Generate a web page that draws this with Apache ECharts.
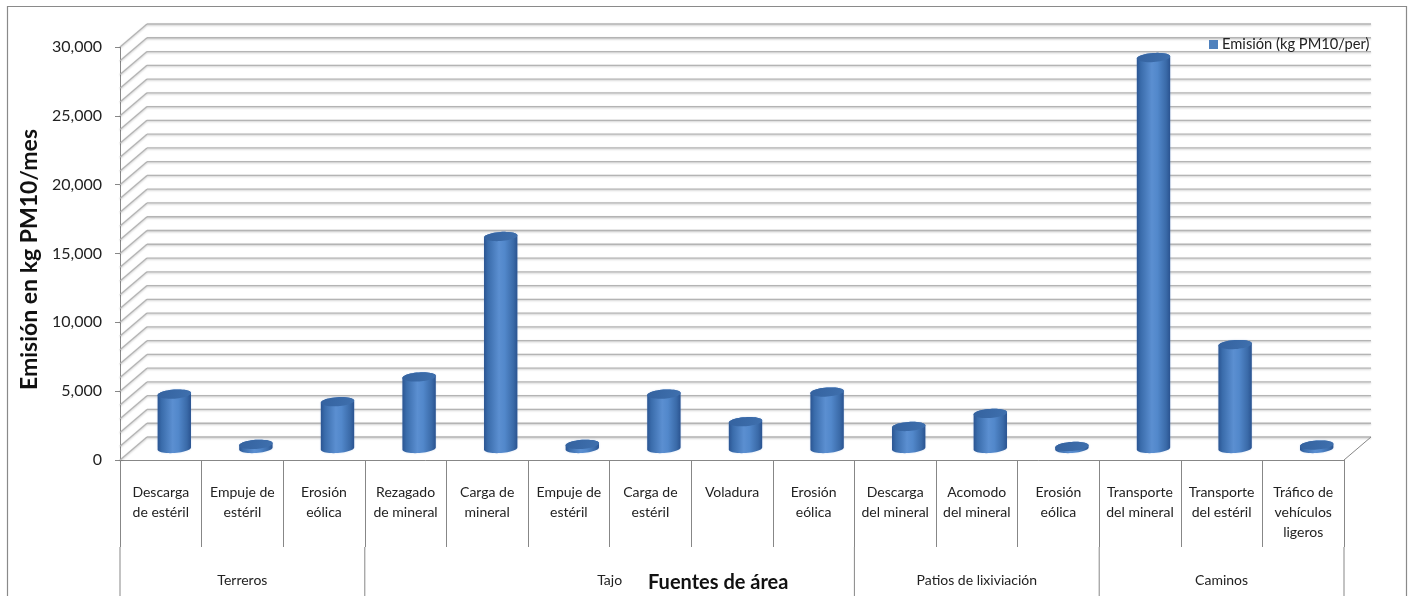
<!DOCTYPE html>
<html>
<head>
<meta charset="utf-8">
<script src="https://cdn.jsdelivr.net/npm/echarts@6/dist/echarts.min.js"></script>
<style>
  html, body { margin: 0; padding: 0; background: #fff; }
  #chart { width: 1417px; height: 596px; }
</style>
</head>
<body>
<div id="chart"></div>
<script>
// Emission sources (sub-categories) and the area each belongs to
const sources = [
  'Descarga\nde estéril', 'Empuje de\nestéril', 'Erosión\neólica',
  'Rezagado\nde mineral', 'Carga de\nmineral', 'Empuje de\nestéril', 'Carga de\nestéril', 'Voladura', 'Erosión\neólica',
  'Descarga\ndel mineral', 'Acomodo\ndel mineral', 'Erosión\neólica',
  'Transporte\ndel mineral', 'Transporte\ndel estéril', 'Tráfico de\nvehículos\nligeros'
];
const areas = ['Terreros', 'Tajo', 'Patios de lixiviación', 'Caminos'];
const sourceArea = [0, 0, 0, 1, 1, 1, 1, 1, 1, 2, 2, 2, 3, 3, 3];

// Emisión (kg PM10/mes) per source
const emissions = [3950, 300, 3400, 5200, 15400, 300, 3950, 1950, 4100, 1600, 2550, 150, 28400, 7550, 250];

// Value axis
const yMin = 0, yMax = 30000, yStep = 5000, wallStep = 1000;

const seriesName = 'Emisión (kg PM10/per)';
const FONT = 'Lato';
const DX = 27, DY = -23;           // depth of the 3D box
const LINE = '#878787';

function fmt(v) { return String(v).replace(/\B(?=(\d{3})+(?!\d))/g, ','); }

// Area spans built from the source list
const areaSpans = areas.map((name, a) => {
  const idx = sourceArea.map((g, i) => g === a ? i : -1).filter(i => i >= 0);
  return [idx[0], idx[idx.length - 1], name];
});

function ellipsePts(cx, cy, rx, ry, rot, t0, t1, n) {
  const pts = [];
  const c = Math.cos(rot), s = Math.sin(rot);
  for (let k = 0; k <= n; k++) {
    const t = t0 + (t1 - t0) * k / n;
    const ex = rx * Math.cos(t), ey = ry * Math.sin(t);
    pts.push([cx + ex * c - ey * s, cy + ex * s + ey * c]);
  }
  return pts;
}

const chart = echarts.init(document.getElementById('chart'), null, { renderer: 'canvas' });

chart.setOption({
  animation: false,
  backgroundColor: '#fff',
  textStyle: { fontFamily: FONT },
  legend: {
    data: [seriesName],
    left: 1209, top: 37,
    icon: 'rect', itemWidth: 9, itemHeight: 9, itemGap: 5,
    padding: 0,
    textStyle: { fontFamily: FONT, fontSize: 14.7, color: '#222', padding: [0, 0, 0, -1] }
  },
  grid: { left: 120, top: 47, width: 1224, height: 413 },
  xAxis: {
    type: 'category',
    data: sources,
    boundaryGap: true,
    axisLine: { show: true, lineStyle: { color: LINE, width: 1 } },
    axisTick: { show: true, interval: 0, length: 87, lineStyle: { color: LINE } },
    axisLabel: {
      interval: 0, margin: 22, fontFamily: FONT, fontSize: 14, lineHeight: 20,
      color: '#222', verticalAlign: 'top'
    },
    splitLine: { show: false }
  },
  yAxis: {
    type: 'value', min: yMin, max: yMax, interval: yStep,
    name: 'Emisión en kg PM10/mes',
    nameLocation: 'middle', nameGap: 73,
    nameTextStyle: { fontFamily: FONT, fontSize: 23, fontWeight: 'bold', color: '#111', padding: [0, 12, 0, 0] },
    axisLine: { show: true, lineStyle: { color: LINE } },
    axisTick: { show: true, length: 5, lineStyle: { color: LINE } },
    axisLabel: { margin: 18, fontFamily: FONT, fontSize: 16, color: '#222', formatter: v => fmt(v) },
    splitLine: { show: false }
  },
  graphic: [
    {
      type: 'rect', silent: true, z: 0,
      shape: { x: 7.5, y: 6.5, width: 1399, height: 600 },
      style: { fill: 'none', stroke: '#8a8a8a', lineWidth: 1.2 }
    },
    {
      type: 'text', left: 648, top: 573, silent: true, z: 10,
      style: { text: 'Fuentes de área', font: 'bold 20px ' + FONT, fill: '#111' }
    }
  ],
  series: [
    {
      // walls: left side wall diagonals, back wall gridlines, right floor edge
      type: 'custom', name: 'walls', silent: true, z: 1,
      data: [[0, 0]],
      renderItem: function (params, api) {
        const band = api.size([1, 0])[0];
        const xl = api.coord([0, 0])[0] - band / 2;
        const xr = api.coord([sources.length - 1, 0])[0] + band / 2;
        const y0 = api.coord([0, 0])[1];
        const children = [];
        const gl = { stroke: '#b4b4b4', lineWidth: 1.3, shadowColor: 'rgba(0,0,0,0.22)', shadowBlur: 2, shadowOffsetY: 1 };
        for (let v = yMin; v <= yMax; v += wallStep) {
          const yf = api.coord([0, v])[1];
          children.push({ type: 'line', shape: { x1: xl, y1: yf, x2: xl + DX, y2: yf + DY }, style: gl });
          children.push({ type: 'line', shape: { x1: xl + DX, y1: yf + DY, x2: xr + DX, y2: yf + DY }, style: gl });
        }
        children.push({ type: 'line', shape: { x1: xr, y1: y0, x2: xr + DX, y2: y0 + DY }, style: { stroke: LINE, lineWidth: 1 } });
        return { type: 'group', children: children };
      }
    },
    {
      // area (second-level) labels and separators
      type: 'custom', name: 'areas', silent: true, z: 2,
      data: areaSpans.map(s => [s[0], 0, s[1], s[2]]),
      renderItem: function (params, api) {
        const band = api.size([1, 0])[0];
        const s = areaSpans[params.dataIndex];
        const x0 = api.coord([s[0], 0])[0] - band / 2;
        const x1 = api.coord([s[1], 0])[0] + band / 2;
        const y0 = api.coord([0, 0])[1];
        const children = [
          { type: 'line', shape: { x1: x0, y1: y0 + 87, x2: x0, y2: y0 + 160 }, style: { stroke: LINE, lineWidth: 1 } }
        ];
        if (params.dataIndex === areaSpans.length - 1) {
          children.push({ type: 'line', shape: { x1: x1, y1: y0 + 87, x2: x1, y2: y0 + 160 }, style: { stroke: LINE, lineWidth: 1 } });
        }
        children.push({
          type: 'text',
          style: {
            text: s[2], x: (x0 + x1) / 2, y: y0 + 120,
            align: 'center', verticalAlign: 'middle',
            font: '14px ' + FONT, fill: '#222'
          }
        });
        return { type: 'group', children: children };
      }
    },
    {
      // cylinders
      type: 'custom', name: seriesName, z: 3,
      itemStyle: { color: '#4f81bd' },
      data: emissions.map((v, i) => [i, v]),
      renderItem: function (params, api) {
        const i = api.value(0), v = api.value(1);
        const band = api.size([1, 0])[0];
        const top = api.coord([i, v]);
        const base = api.coord([i, 0]);
        const cx = top[0] + DX / 2;
        const ty = top[1] + DY / 2;
        const by = base[1] + DY / 2;
        const rx = band * 0.205, ry = rx * 0.27, rot = -0.07;
        const upper = ellipsePts(cx, ty, rx, ry, rot, 0, -Math.PI, 24);
        const lower = ellipsePts(cx, by, rx, ry, rot, Math.PI, 0, 24);
        const body = upper.concat(lower);
        const cap = ellipsePts(cx, ty, rx, ry, rot, 0, Math.PI * 2, 48);
        return {
          type: 'group',
          children: [
            {
              type: 'polygon', shape: { points: body },
              style: {
                fill: new echarts.graphic.LinearGradient(0, 0, 1, 0, [
                  { offset: 0, color: '#2b5592' },
                  { offset: 0.12, color: '#3a6cab' },
                  { offset: 0.45, color: '#5b8fd1' },
                  { offset: 0.62, color: '#5288cb' },
                  { offset: 0.88, color: '#3a6aa8' },
                  { offset: 1, color: '#2a5390' }
                ]),
                shadowColor: 'rgba(120,160,220,0.35)', shadowBlur: 2
              }
            },
            {
              type: 'polygon', shape: { points: cap },
              style: {
                fill: new echarts.graphic.LinearGradient(0, 0, 1, 1, [
                  { offset: 0, color: '#34629f' },
                  { offset: 1, color: '#3f70ae' }
                ])
              }
            }
          ]
        };
      }
    }
  ]
});
</script>
</body>
</html>
